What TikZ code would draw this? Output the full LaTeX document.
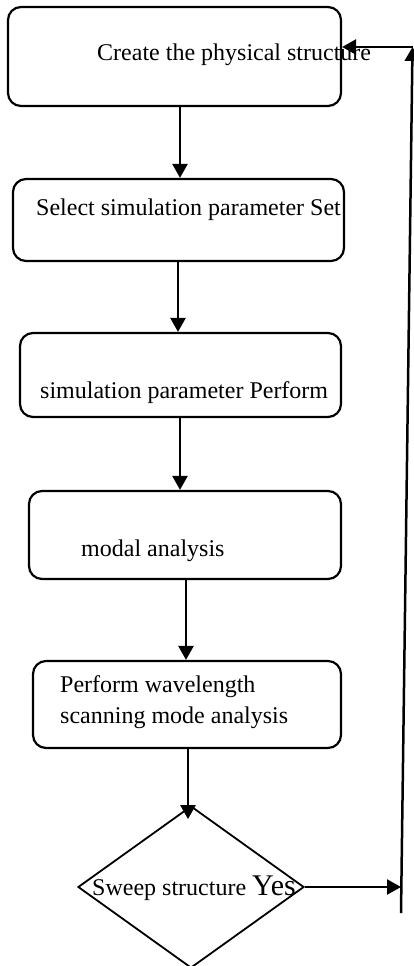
\documentclass[tikz,border=0pt]{standalone}
\usepackage{fontspec}
\setmainfont{Liberation Serif}
\usetikzlibrary{shapes.geometric,arrows.meta}
\tikzset{
  box/.style={draw, line width=2.2pt, rounded corners=13pt, inner sep=0pt},
  lbl/.style={anchor=base west, inner sep=0pt, font=\fontsize{24}{28}\selectfont},
  arr/.style={line width=2.5pt, -{Triangle[length=14pt,width=15pt]}},
  plain/.style={line width=2.5pt}
}
\begin{document}
\begin{tikzpicture}[x=1pt,y=-1pt]
\useasboundingbox (0,0) rectangle (414,966);
% boxes
\node[box, minimum width=333pt, minimum height=99pt] (b1) at (174.5,56.5) {};
\node[box, minimum width=331pt, minimum height=82pt] (b2) at (178.5,220) {};
\node[box, minimum width=321pt, minimum height=84pt] (b3) at (180.5,375) {};
\node[box, minimum width=312pt, minimum height=88pt] (b4) at (185,535) {};
\node[box, minimum width=308pt, minimum height=87pt] (b5) at (187,704.5) {};
\node[draw, diamond, line width=1.8pt, inner sep=0pt, minimum width=226pt, minimum height=162pt] (d) at (191,887) {};
% texts
\node[lbl] (t1) at (97,60) {Create the physical structure};
\node[lbl] (t2) at (36,215) {Select simulation parameter Set};
\node[lbl] (t3) at (40,398) {simulation parameter Perform};
\node[lbl] (t4) at (81,556) {modal analysis};
\node[lbl] (t5a) at (60,692) {Perform wavelength};
\node[lbl] (t5b) at (60,723) {scanning mode analysis};
\node[lbl] (t6) at (92,895) {Sweep structure {\fontsize{30}{34}\selectfont Yes}};
% arrows
\draw[arr] ([xshift=5.5pt]b1.south) -- ([xshift=5.5pt]b1.south |- b2.north);
\draw[arr] ([xshift=-0.5pt]b2.south) -- ([xshift=-0.5pt]b2.south |- b3.north);
\draw[arr] ([xshift=-0.5pt]b3.south) -- ([xshift=-0.5pt]b3.south |- b4.north);
\draw[arr] ([xshift=1pt]b4.south) -- ([xshift=1pt]b4.south |- b5.north);
\draw[arr] ([xshift=1pt]b5.south) -- ([xshift=1pt,yshift=-14pt]b5.south |- d.north);
% feedback loop
\coordinate (lb) at (401,913);
\coordinate (lt) at (412.5,47);
\coordinate (ly) at (401,887);
\draw[arr] (d.east) -- (ly);
\draw[arr] (lb) -- (lt);
\draw[arr] (lt) -- (b1.east |- lt);
\end{tikzpicture}
\end{document}
